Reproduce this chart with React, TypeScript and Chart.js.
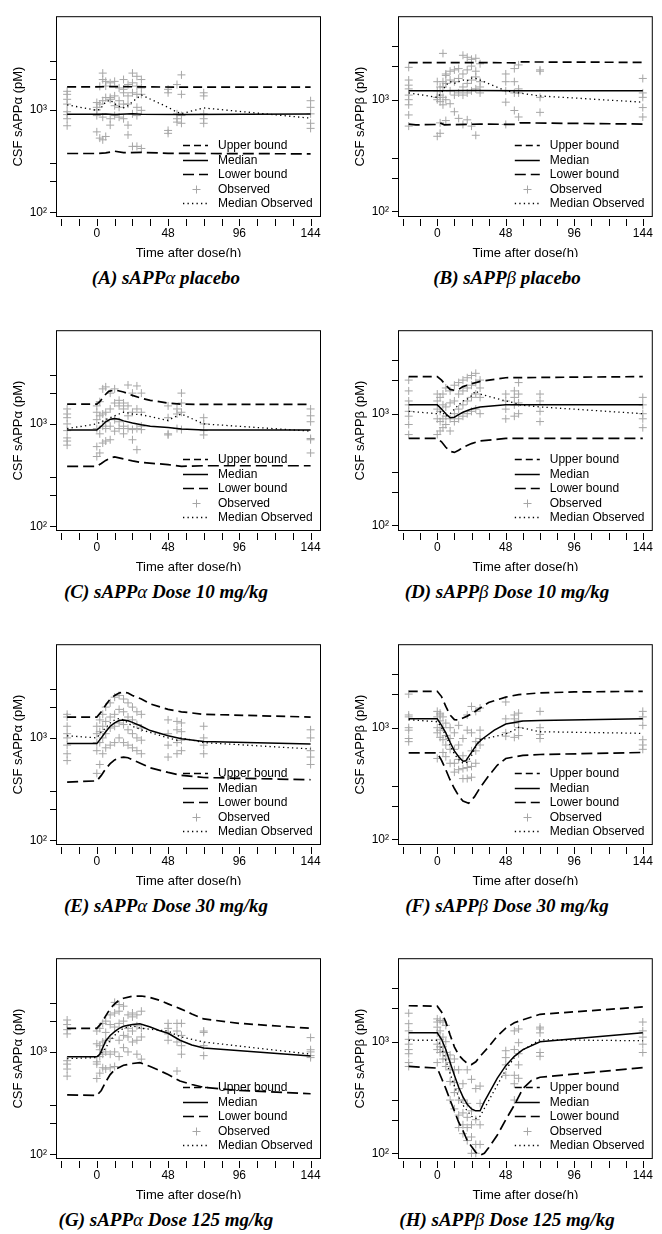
import React, { useEffect, useRef } from "react";
import { Chart, registerables } from "chart.js";
Chart.register(...registerables);

type P = [number, number];

// ---------- axes ----------
const xTickValues = [-24, -12, 0, 12, 24, 36, 48, 60, 72, 84, 96, 108, 120, 132, 144];
const xTickLabels = [0, 48, 96, 144];
const yTickValues = [100, 200, 300, 1000, 2000, 3000];
const yTickLabelMap: Record<number, string> = { 100: "10\u00b2", 1000: "10\u00b3" };
const legendLabels = ["Upper bound", "Median", "Lower bound", "Observed", "Median Observed"];
const xTitle = "Time after dose(h)";
const yTitles = ["CSF sAPP\u03b1 (pM)", "CSF sAPP\u03b2 (pM)"];
const panelLetters = ["A", "B", "C", "D", "E", "F", "G", "H"];
const doseNames = ["placebo", "Dose 10 mg/kg", "Dose 30 mg/kg", "Dose 125 mg/kg"];
const greek = ["\u03b1", "\u03b2"];

const obsTimes = [-20, 0, 2, 4, 6, 9, 12, 15, 18, 21, 24, 27, 30, 48, 54, 57, 72, 144];

// ---------- A: sAPPα placebo ----------
const A_upper: P[] = [[-20, 1680], [0, 1680], [12, 1690], [30, 1680], [57, 1670], [144, 1670]];
const A_median: P[] = [[-20, 905], [0, 905], [6, 910], [12, 900], [24, 915], [30, 905], [57, 900], [144, 910]];
const A_lower: P[] = [[-20, 375], [0, 375], [6, 380], [12, 395], [18, 382], [30, 385], [48, 376], [144, 372]];
const A_medObs: P[] = [[-20, 1120], [0, 990], [2, 1010], [4, 1100], [6, 1200], [9, 1250], [12, 1150], [15, 1080], [18, 1050], [21, 1100], [24, 1200], [27, 1300], [30, 1400], [48, 1060], [54, 950], [57, 920], [72, 1045], [144, 830]];
const A_obs: number[][] = [
  [700, 820, 900, 960, 1140, 1270, 1420, 1520],
  [610, 880, 1000, 1060, 1180],
  [530, 1140, 1700],
  [510, 850, 1230, 1980, 2290],
  [550, 1320, 1710, 1900],
  [710, 820, 1270, 1320, 1840],
  [880, 1100, 1370, 1900],
  [850, 1060, 1230, 1640],
  [820, 1140, 1470, 1590, 1980],
  [570, 710, 1140, 1370, 1770],
  [440, 915, 1470, 1840, 2290],
  [440, 880, 1060, 1420, 1710, 2130],
  [420, 990, 1420, 1640, 1980],
  [590, 630, 1470, 1590],
  [760, 820, 915, 1770],
  [740, 880, 1420, 2200],
  [740, 820, 915, 1370, 1470],
  [660, 740, 915, 1060, 1230],
];

// ---------- B: sAPPβ placebo ----------
const B_upper: P[] = [[-20, 2150], [0, 2150], [30, 2150], [55, 2140], [58, 2180], [144, 2160]];
const B_median: P[] = [[-20, 1200], [0, 1200], [24, 1210], [57, 1200], [144, 1200]];
const B_lower: P[] = [[-20, 605], [-15, 595], [0, 600], [2, 620], [5, 595], [30, 605], [55, 600], [58, 620], [144, 605]];
const B_medObs: P[] = [[-20, 1150], [0, 1050], [3, 1150], [6, 1350], [9, 1450], [12, 1400], [15, 1450], [18, 1500], [21, 1480], [24, 1560], [27, 1550], [30, 1500], [48, 1200], [54, 1170], [57, 1150], [72, 1080], [144, 950]];
const B_obs: number[][] = [
  [580, 730, 900, 1000, 1100, 1250, 1350, 1500, 1950],
  [470, 1000, 1050, 1200, 1450],
  [500, 620, 960, 1100, 1300],
  [900, 1050, 1300, 1450, 2600],
  [650, 1000, 1400, 1650, 1700],
  [920, 1200, 1500, 1800],
  [780, 1100, 1450, 1850],
  [680, 1150, 1550, 1900],
  [600, 1100, 1300, 1700, 2500],
  [660, 1150, 1400, 1850, 2400],
  [580, 1200, 1500, 2000, 2300],
  [480, 1250, 1600, 1800, 2350],
  [1150, 1300, 1450, 2100],
  [600, 950, 1200, 1450, 1700],
  [800, 1150, 1450, 1900],
  [700, 1150, 1250, 2050],
  [770, 1050, 1800, 1850],
  [700, 850, 1050, 1150, 1550],
];

// ---------- C: sAPPα 10 mg/kg ----------
const C_upper: P[] = [[-20, 1560], [0, 1560], [2, 1650], [4, 1800], [6, 1950], [8, 2080], [12, 2150], [18, 2050], [24, 1900], [30, 1780], [36, 1700], [48, 1600], [57, 1560], [72, 1550], [144, 1550]];
const C_median: P[] = [[-20, 870], [0, 870], [3, 950], [6, 1050], [9, 1110], [12, 1130], [15, 1110], [18, 1070], [24, 1020], [30, 980], [36, 950], [48, 920], [57, 890], [72, 870], [144, 870]];
const C_lower: P[] = [[-20, 385], [0, 385], [3, 410], [6, 440], [9, 465], [12, 475], [18, 455], [24, 435], [30, 420], [48, 400], [57, 385], [72, 390], [144, 390]];
const C_medObs: P[] = [[-20, 900], [0, 1000], [3, 1050], [6, 1100], [9, 1150], [12, 1200], [15, 1250], [18, 1300], [21, 1280], [24, 1250], [27, 1240], [30, 1230], [48, 1080], [54, 1200], [57, 1250], [72, 1000], [144, 850]];
const C_obs: number[][] = [
  [620, 680, 730, 860, 1000, 1150, 1250, 1400],
  [480, 600, 900, 1100, 1300, 1500],
  [520, 800, 1200, 1650],
  [650, 950, 1250, 2200],
  [680, 900, 1050, 1300, 2300],
  [700, 950, 1400, 2000],
  [850, 1100, 1600, 2200],
  [900, 1050, 1500, 1700],
  [800, 950, 1400, 1600],
  [900, 1200, 1500, 2400],
  [700, 880, 1300, 2000],
  [560, 900, 1400, 2350],
  [880, 950, 1300, 2000],
  [780, 800, 1150, 1500],
  [900, 1250, 1400],
  [880, 1300, 1600, 2000],
  [780, 860, 1000, 1150],
  [520, 700, 720, 1050, 1200, 1400],
];

// ---------- D: sAPPβ 10 mg/kg ----------
const D_upper: P[] = [[-20, 2150], [0, 2150], [3, 2000], [6, 1800], [9, 1650], [12, 1620], [15, 1650], [18, 1750], [24, 1850], [30, 1950], [48, 2100], [144, 2150]];
const D_median: P[] = [[-20, 1200], [0, 1200], [3, 1100], [6, 1000], [9, 920], [12, 930], [15, 980], [18, 1030], [24, 1100], [30, 1150], [48, 1200], [144, 1200]];
const D_lower: P[] = [[-20, 600], [0, 600], [3, 560], [6, 500], [9, 460], [12, 450], [15, 470], [18, 500], [24, 540], [30, 570], [48, 600], [144, 600]];
const D_medObs: P[] = [[-20, 1050], [0, 1000], [3, 1050], [6, 950], [9, 1000], [12, 1100], [15, 1200], [18, 1300], [21, 1350], [24, 1450], [27, 1600], [30, 1500], [48, 1300], [54, 1250], [57, 1200], [72, 1150], [144, 1000]];
const D_obs: number[][] = [
  [650, 800, 950, 1050, 1200, 1300, 1600, 2000],
  [650, 900, 1100, 1300, 1500],
  [700, 850, 1050, 1400],
  [750, 900, 1200, 1500],
  [800, 950, 1150, 1700],
  [700, 900, 1250, 1600],
  [850, 1000, 1300, 1800],
  [900, 1100, 1500, 1900],
  [950, 1200, 1600, 2000],
  [1000, 1300, 1700, 2100],
  [1050, 1400, 1800, 2200],
  [1100, 1500, 1900, 2300],
  [1000, 1400, 1700, 2000],
  [900, 1100, 1300, 1500],
  [950, 1200, 1400, 1600],
  [1000, 1250, 1500, 1900],
  [850, 1050, 1300, 1500],
  [750, 900, 1000, 1200, 1400],
];

// ---------- E: sAPPα 30 mg/kg ----------
const E_upper: P[] = [[-20, 1600], [0, 1600], [3, 1800], [6, 2100], [9, 2400], [12, 2600], [15, 2750], [18, 2800], [21, 2750], [24, 2600], [30, 2400], [36, 2150], [48, 1900], [57, 1800], [72, 1700], [144, 1600]];
const E_median: P[] = [[-20, 880], [0, 880], [3, 1000], [6, 1150], [9, 1300], [12, 1400], [15, 1480], [18, 1500], [21, 1470], [24, 1420], [30, 1300], [36, 1180], [48, 1050], [57, 980], [72, 920], [144, 870]];
const E_lower: P[] = [[-20, 370], [0, 380], [3, 430], [6, 500], [9, 560], [12, 610], [15, 640], [18, 650], [21, 640], [24, 610], [30, 560], [36, 510], [48, 460], [57, 430], [72, 410], [144, 390]];
const E_medObs: P[] = [[-20, 1050], [0, 1000], [3, 1150], [6, 1250], [9, 1400], [12, 1500], [15, 1550], [18, 1500], [21, 1400], [24, 1300], [27, 1250], [30, 1200], [48, 1000], [54, 950], [57, 1000], [72, 900], [144, 780]];
const E_obs: number[][] = [
  [600, 700, 850, 1000, 1100, 1300, 1600, 1700],
  [450, 750, 900, 1100, 1300],
  [550, 900, 1150, 1500],
  [700, 1000, 1300, 1700],
  [800, 1100, 1450, 2000],
  [850, 1250, 1600, 2200],
  [900, 1300, 1700, 2500],
  [1000, 1400, 1900, 2600],
  [900, 1350, 1800, 2400],
  [850, 1200, 1600, 2200],
  [800, 1100, 1500, 2000],
  [750, 1000, 1350, 1800],
  [700, 950, 1250, 1700],
  [650, 850, 1100, 1500],
  [700, 900, 1200, 1450],
  [750, 950, 1150, 1400],
  [700, 850, 1000, 1300],
  [550, 650, 750, 1000, 1200],
];

// ---------- F: sAPPβ 30 mg/kg ----------
const F_upper: P[] = [[-20, 2120], [0, 2120], [3, 1900], [6, 1550], [9, 1300], [12, 1180], [15, 1170], [18, 1220], [21, 1270], [24, 1330], [30, 1500], [36, 1680], [48, 1880], [57, 1980], [72, 2050], [96, 2090], [144, 2120]];
const F_median: P[] = [[-20, 1200], [0, 1200], [3, 1050], [6, 900], [9, 740], [12, 620], [15, 550], [18, 500], [20, 505], [24, 600], [28, 720], [32, 800], [40, 950], [48, 1080], [60, 1150], [72, 1160], [144, 1200]];
const F_lower: P[] = [[-20, 595], [0, 595], [3, 510], [6, 420], [9, 340], [12, 285], [15, 245], [18, 220], [22, 210], [26, 240], [30, 290], [36, 370], [42, 460], [48, 530], [60, 565], [72, 575], [144, 600]];
const F_medObs: P[] = [[-20, 1180], [0, 1130], [3, 1000], [6, 850], [9, 700], [12, 580], [15, 520], [18, 480], [21, 490], [24, 560], [27, 680], [30, 780], [48, 880], [54, 950], [57, 1010], [72, 920], [144, 890]];
const F_obs: number[][] = [
  [750, 800, 950, 1000, 1250, 1300, 2000],
  [530, 900, 1000, 1250, 1400],
  [820, 950, 1150, 1300, 1350],
  [600, 780, 1000, 1250],
  [550, 700, 850, 1100],
  [480, 640, 800, 1000],
  [400, 480, 640, 900],
  [420, 520, 700, 1050],
  [350, 430, 560, 800],
  [350, 440, 500, 950, 1300],
  [360, 450, 620, 900, 1550],
  [480, 620, 750, 1400],
  [700, 800, 950, 1500],
  [840, 900, 1200, 1700],
  [820, 1100, 1200, 1300],
  [850, 1000, 1150, 1350],
  [800, 870, 1000, 1400],
  [640, 700, 780, 1050, 1250, 1400],
];

// ---------- G: sAPPα 125 mg/kg ----------
const G_upper: P[] = [[-20, 1700], [0, 1700], [3, 1900], [6, 2250], [9, 2650], [12, 2950], [15, 3200], [18, 3350], [24, 3500], [30, 3520], [36, 3400], [42, 3200], [48, 2950], [56, 2650], [64, 2350], [72, 2100], [96, 1900], [144, 1700]];
const G_median: P[] = [[-20, 895], [0, 895], [2, 950], [4, 1100], [6, 1280], [9, 1450], [12, 1580], [15, 1700], [18, 1780], [24, 1850], [29, 1880], [36, 1750], [42, 1620], [48, 1520], [56, 1300], [64, 1170], [72, 1090], [144, 910]];
const G_lower: P[] = [[-20, 380], [0, 375], [3, 420], [6, 510], [9, 600], [12, 670], [18, 740], [24, 770], [29, 785], [36, 720], [42, 660], [48, 600], [56, 520], [64, 480], [72, 450], [96, 420], [144, 390]];
const G_medObs: P[] = [[-20, 860], [0, 880], [2, 950], [4, 1000], [6, 1100], [9, 1300], [12, 1450], [15, 1600], [18, 1700], [21, 1750], [24, 1800], [27, 1750], [30, 1700], [48, 1600], [54, 1450], [57, 1400], [72, 1250], [144, 950]];
const G_obs: number[][] = [
  [580, 680, 760, 820, 1500, 1650, 1850, 2050],
  [550, 760, 800, 1200, 1600],
  [620, 900, 1050, 1150, 1700],
  [700, 950, 1250, 1900],
  [680, 1000, 1300, 1550, 2000],
  [700, 950, 1350, 1850, 2300],
  [720, 1000, 1750, 2400, 3050],
  [900, 1300, 1900, 2500, 2900],
  [1100, 1450, 2000, 2800],
  [1000, 1400, 1700, 2300],
  [1250, 1600, 2200, 2400],
  [950, 1300, 1800, 2300],
  [850, 1400, 1700, 2500],
  [1300, 1500, 1700, 1900],
  [650, 1250, 1600, 1900],
  [950, 1150, 1450, 1900],
  [920, 1150, 1550, 1600],
  [880, 920, 1000, 1050, 1380],
];

// ---------- H: sAPPβ 125 mg/kg ----------
const H_upper: P[] = [[-20, 2100], [0, 2080], [3, 1850], [6, 1500], [9, 1150], [12, 900], [15, 760], [18, 690], [21, 640], [24, 625], [27, 660], [30, 740], [36, 900], [42, 1120], [48, 1320], [54, 1480], [60, 1570], [72, 1760], [96, 1850], [144, 2050]];
const H_median: P[] = [[-20, 1200], [0, 1200], [3, 1050], [6, 850], [9, 650], [12, 500], [15, 390], [18, 320], [21, 275], [24, 250], [27, 240], [30, 240], [33, 290], [36, 340], [42, 470], [48, 610], [54, 740], [60, 850], [72, 1000], [144, 1200]];
const H_lower: P[] = [[-20, 600], [0, 580], [3, 470], [6, 380], [9, 300], [12, 240], [15, 190], [18, 160], [21, 130], [24, 115], [27, 102], [30, 96], [33, 100], [36, 112], [42, 145], [48, 200], [54, 270], [60, 380], [66, 450], [72, 480], [144, 585]];
const H_medObs: P[] = [[-20, 1030], [0, 1030], [2, 950], [4, 800], [6, 680], [9, 520], [12, 400], [15, 320], [18, 270], [21, 240], [24, 215], [27, 205], [30, 215], [48, 560], [54, 720], [57, 800], [72, 1040], [144, 1020]];
const H_obs: number[][] = [
  [600, 650, 780, 850, 950, 1050, 1250, 1450, 1800],
  [650, 850, 950, 1200, 1350, 1500, 1600],
  [800, 900, 1050, 1250, 1550],
  [700, 820, 900, 1100, 1500],
  [600, 700, 800, 1000, 1400],
  [300, 440, 560, 650, 760],
  [250, 350, 430, 560, 700],
  [170, 220, 300, 380, 560],
  [150, 180, 230, 300, 420],
  [130, 170, 210, 280, 560],
  [100, 140, 180, 240, 460],
  [100, 120, 200, 380],
  [120, 180, 280, 400],
  [500, 620, 720, 830],
  [300, 420, 500, 850, 1250],
  [470, 620, 780, 980, 1300],
  [740, 800, 1200, 1300, 1350],
  [800, 950, 1100, 1250, 1500],
];

type PanelData = { upper: P[]; median: P[]; lower: P[]; medObs: P[]; obs: number[][] };
const panelData: PanelData[] = [
  { upper: A_upper, median: A_median, lower: A_lower, medObs: A_medObs, obs: A_obs },
  { upper: B_upper, median: B_median, lower: B_lower, medObs: B_medObs, obs: B_obs },
  { upper: C_upper, median: C_median, lower: C_lower, medObs: C_medObs, obs: C_obs },
  { upper: D_upper, median: D_median, lower: D_lower, medObs: D_medObs, obs: D_obs },
  { upper: E_upper, median: E_median, lower: E_lower, medObs: E_medObs, obs: E_obs },
  { upper: F_upper, median: F_median, lower: F_lower, medObs: F_medObs, obs: F_obs },
  { upper: G_upper, median: G_median, lower: G_lower, medObs: G_medObs, obs: G_obs },
  { upper: H_upper, median: H_median, lower: H_lower, medObs: H_medObs, obs: H_obs },
];

// ---------- styling / layout ----------
const SANS = '"Liberation Sans", Arial, Helvetica, sans-serif';
const SERIF = '"Liberation Serif", "Times New Roman", serif';
const UPPER_DASH = [9, 5];
const LOWER_DASH = [11, 5];
const DOT_DASH = [1.3, 3.2];
const OBS_COLOR = "#a6a6a6";
const ROW_PITCH = 314;
const CANVAS_H = 261;
const X_AXIS_H = 44;
const CLIP_H = 257;
const X_MIN = -27.5;
const X_MAX = 151;
const Y_RANGE = [
  { min: 89.8, max: 8240 },
  { min: 88.9, max: 5600 },
];
const COLS = [
  { left: 0, width: 331, padRight: 10, capX: 166 },
  { left: 342, width: 320, padRight: 1, capX: 507 },
];

function toXY(pts: P[]) {
  return pts.map(([x, y]) => ({ x, y }));
}

function lineDs(pts: P[], width: number, dash: number[]) {
  return {
    data: toXY(pts),
    showLine: true,
    borderColor: "#000",
    backgroundColor: "#000",
    borderWidth: width,
    borderDash: dash,
    borderCapStyle: "butt",
    pointRadius: 0,
    pointHoverRadius: 0,
    fill: false,
    tension: 0,
  };
}

function Panel({ idx }: { idx: number }) {
  const ref = useRef<HTMLCanvasElement>(null);
  const col = idx % 2;
  const row = Math.floor(idx / 2);
  const c = COLS[col];
  useEffect(() => {
    const d = panelData[idx];
    const obsPts: { x: number; y: number }[] = [];
    obsTimes.forEach((t, i) => d.obs[i].forEach((v) => obsPts.push({ x: t, y: v })));

    const decor = {
      id: "decor",
      afterDatasetsDraw(chart: any) {
        const { ctx, chartArea } = chart;
        const { left, right, top, bottom } = chartArea;
        const xs = chart.scales.x;
        const ys = chart.scales.y;
        ctx.save();
        ctx.strokeStyle = "#000";
        ctx.lineWidth = 1;
        ctx.setLineDash([]);
        ctx.strokeRect(left + 0.5, top + 0.5, right - left - 1, bottom - top - 1);
        ctx.beginPath();
        for (const v of yTickValues) {
          if (v < ys.min || v > ys.max) continue;
          const py = Math.round(ys.getPixelForValue(v)) + 0.5;
          ctx.moveTo(left - 6, py);
          ctx.lineTo(left, py);
        }
        for (const v of xTickValues) {
          const px = Math.round(xs.getPixelForValue(v)) + 0.5;
          ctx.moveTo(px, bottom + 2);
          ctx.lineTo(px, bottom + 9);
        }
        ctx.stroke();

        // legend
        const sx0 = right - 138;
        const sx1 = right - 113;
        const tx = right - 103;
        ctx.font = `12px ${SANS}`;
        ctx.textBaseline = "middle";
        ctx.textAlign = "left";
        legendLabels.forEach((lab, i) => {
          const yy = Math.round(bottom - 72 + 14.5 * i) + 0.5;
          ctx.save();
          if (i === 3) {
            ctx.strokeStyle = OBS_COLOR;
            ctx.lineWidth = 1;
            const cx = Math.round((sx0 + sx1) / 2) + 0.5;
            ctx.beginPath();
            ctx.moveTo(cx - 4, yy);
            ctx.lineTo(cx + 4, yy);
            ctx.moveTo(cx, yy - 4);
            ctx.lineTo(cx, yy + 4);
            ctx.stroke();
          } else {
            ctx.strokeStyle = "#000";
            ctx.lineWidth = i === 1 ? 1.5 : i === 4 ? 1.3 : 1.6;
            ctx.setLineDash(i === 0 ? [7, 4] : i === 2 ? LOWER_DASH.slice() : i === 4 ? DOT_DASH : []);
            ctx.beginPath();
            ctx.moveTo(sx0, yy);
            ctx.lineTo(sx1, yy);
            ctx.stroke();
          }
          ctx.restore();
          ctx.fillStyle = "#000";
          ctx.fillText(lab, tx, yy);
        });
        ctx.restore();
      },
    };

    const chart = new Chart(ref.current as HTMLCanvasElement, {
      type: "scatter",
      data: {
        datasets: [
          lineDs(d.medObs, 1.3, DOT_DASH),
          lineDs(d.upper, 1.7, UPPER_DASH),
          lineDs(d.median, 1.5, []),
          lineDs(d.lower, 1.7, LOWER_DASH),
          {
            data: obsPts,
            showLine: false,
            pointStyle: "cross",
            pointRadius: 4,
            pointHoverRadius: 4,
            borderColor: OBS_COLOR,
            backgroundColor: OBS_COLOR,
            borderWidth: 1,
          },
        ] as any,
      },
      options: {
        animation: false,
        responsive: false,
        events: [],
        layout: { padding: { top: 7, right: c.padRight, left: 0, bottom: 0 } },
        plugins: { legend: { display: false }, tooltip: { enabled: false } },
        scales: {
          x: {
            type: "linear",
            min: X_MIN,
            max: X_MAX,
            afterBuildTicks: (s: any) => {
              s.ticks = xTickValues.map((v) => ({ value: v }));
            },
            afterFit: (s: any) => {
              s.height = X_AXIS_H;
            },
            ticks: {
              autoSkip: false,
              maxRotation: 0,
              minRotation: 0,
              padding: 9,
              color: "#000",
              font: { family: SANS, size: 12 },
              callback: (v: any) => (xTickLabels.includes(Number(v)) ? String(v) : ""),
            },
            grid: { display: false, drawTicks: false },
            border: { display: false },
            title: { display: true, text: xTitle, color: "#000", padding: 0, font: { family: SANS, size: 13 } },
          },
          y: {
            type: "logarithmic",
            min: Y_RANGE[col].min,
            max: Y_RANGE[col].max,
            afterBuildTicks: (s: any) => {
              s.ticks = yTickValues.map((v) => ({ value: v }));
            },
            afterFit: (s: any) => {
              s.width = 56;
            },
            ticks: {
              autoSkip: false,
              padding: 9,
              color: "#000",
              font: { family: SANS, size: 12 },
              callback: (v: any) => yTickLabelMap[Number(v)] ?? "",
            },
            grid: { display: false, drawTicks: false },
            border: { display: false },
            title: {
              display: true,
              text: yTitles[col],
              color: "#000",
              padding: { top: 11, bottom: 0 },
              font: { family: SANS, size: 13 },
            },
          },
        },
      } as any,
      plugins: [decor],
    });
    return () => chart.destroy();
  }, [idx]);

  const top = row * ROW_PITCH;
  return (
    <>
      <div style={{ position: "absolute", left: c.left, top, width: c.width, height: CLIP_H, overflow: "hidden" }}>
        <canvas ref={ref} width={c.width} height={CANVAS_H} style={{ display: "block" }} />
      </div>
      <div
        style={{
          position: "absolute",
          left: c.capX - 165,
          width: 330,
          top: top + 278 - 12,
          height: 24,
          lineHeight: "24px",
          textAlign: "center",
          fontFamily: SERIF,
          fontWeight: "bold",
          fontStyle: "italic",
          fontSize: 19,
          color: "#000",
          whiteSpace: "nowrap",
        }}
      >
        ({panelLetters[idx]}) sAPP<span style={{ fontWeight: "normal" }}>{greek[col]}</span> {doseNames[row]}
      </div>
    </>
  );
}

export default function App() {
  return (
    <div style={{ position: "absolute", left: 0, top: 0, width: 662, height: 1234, background: "#fff" }}>
      {panelLetters.map((_, i) => (
        <Panel key={i} idx={i} />
      ))}
    </div>
  );
}
